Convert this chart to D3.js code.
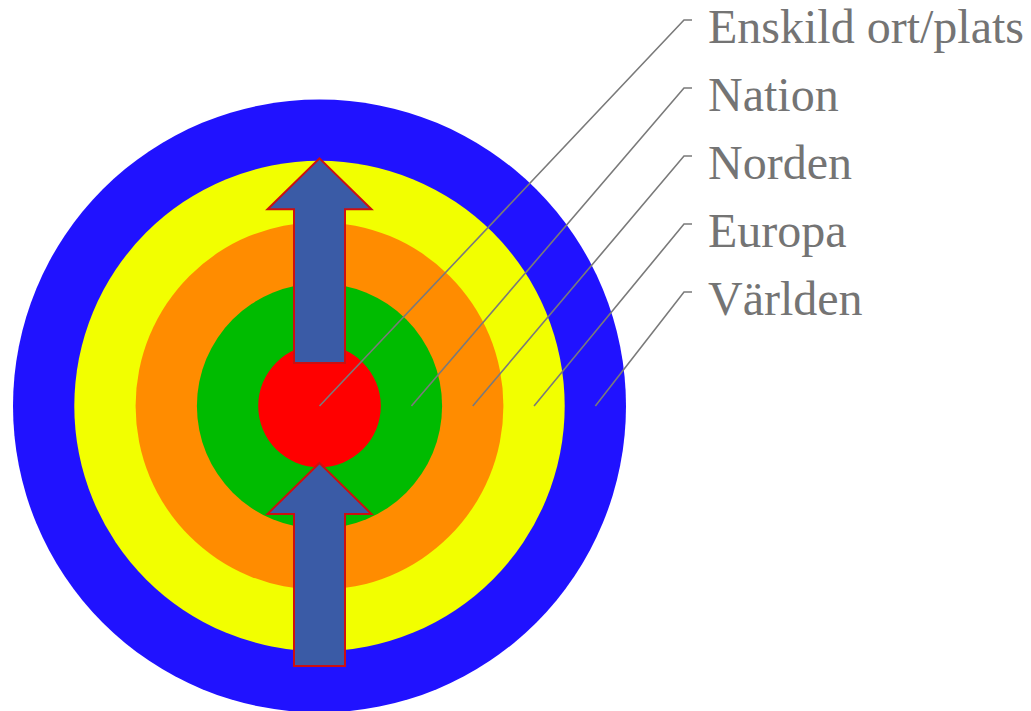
<!DOCTYPE html>
<html>
<head>
<meta charset="utf-8">
<script src="https://cdn.jsdelivr.net/npm/d3@7"></script>
<style>
  body { margin: 0; background: #fff; }
  svg { display: block; }
</style>
</head>
<body>
<div id="chart-area"></div>
<script>
// levels, from the centre outwards
var levels = ["Enskild ort/plats", "Nation", "Norden", "Europa", "Världen"];
var ringColors = ["#ff0000", "#00bb00", "#ff8c00", "#f2ff00", "#2012ff"];
// where each leader line starts, in rings from the centre
var leaderRing = [0, 1.5, 2.5, 3.5, 4.5];
// arrows, tail and tip in rings (positive = above the centre)
var arrows = [
    { tail: 0.70, tip: 4.04 },
    { tail: -4.24, tip: -0.93 }
];

var width = 1031, height = 711;
var cx = 319.5, cy = 406;

var svg = d3.select("#chart-area").append("svg")
    .attr("width", width)
    .attr("height", height);

// ring scale
var r = d3.scaleLinear()
    .domain([0, levels.length])
    .range([0, 306.5]);

// vertical position from ring units
var y = d3.scaleLinear()
    .domain([-levels.length, levels.length])
    .range([cy + r(levels.length), cy - r(levels.length)]);

// circles, largest first
svg.selectAll("circle.ring")
    .data(levels.map((d, i) => i).reverse())
    .enter()
    .append("circle")
    .attr("class", "ring")
    .attr("cx", cx)
    .attr("cy", cy)
    .attr("r", d => r(d + 1))
    .attr("fill", d => ringColors[d]);

// arrows
var headLen = 51, headHalf = 52, shaftHalf = 25.5;
svg.selectAll("path.arrow")
    .data(arrows)
    .enter()
    .append("path")
    .attr("class", "arrow")
    .attr("d", function(d) {
        var yTip = y(d.tip), yTail = y(d.tail);
        var yBase = yTip + headLen;
        return "M" + cx + "," + yTip +
            "L" + (cx + headHalf) + "," + yBase +
            "L" + (cx + shaftHalf) + "," + yBase +
            "L" + (cx + shaftHalf) + "," + yTail +
            "L" + (cx - shaftHalf) + "," + yTail +
            "L" + (cx - shaftHalf) + "," + yBase +
            "L" + (cx - headHalf) + "," + yBase + "Z";
    })
    .attr("fill", "#3a5ba6")
    .attr("stroke", "#cc1010")
    .attr("stroke-width", 2)
    .attr("stroke-linejoin", "miter");

// leader lines and labels
var labelX = 708, elbowX = 684, endX = 692, topY = 20, step = 68;

svg.selectAll("path.leader")
    .data(levels)
    .enter()
    .append("path")
    .attr("class", "leader")
    .attr("d", function(d, i) {
        var ey = topY + i * step;
        return "M" + (cx + r(leaderRing[i])) + "," + cy +
            "L" + elbowX + "," + ey + "L" + endX + "," + ey;
    })
    .attr("fill", "none")
    .attr("stroke", "#7a7a7a")
    .attr("stroke-width", 1.6);

svg.selectAll("text.label")
    .data(levels)
    .enter()
    .append("text")
    .attr("class", "label")
    .attr("x", labelX)
    .attr("y", (d, i) => topY + i * step + 23)
    .attr("font-family", "'Liberation Serif', 'Times New Roman', serif")
    .attr("font-size", 48)
    .attr("fill", "#747474")
    .text(d => d);
</script>
</body>
</html>
